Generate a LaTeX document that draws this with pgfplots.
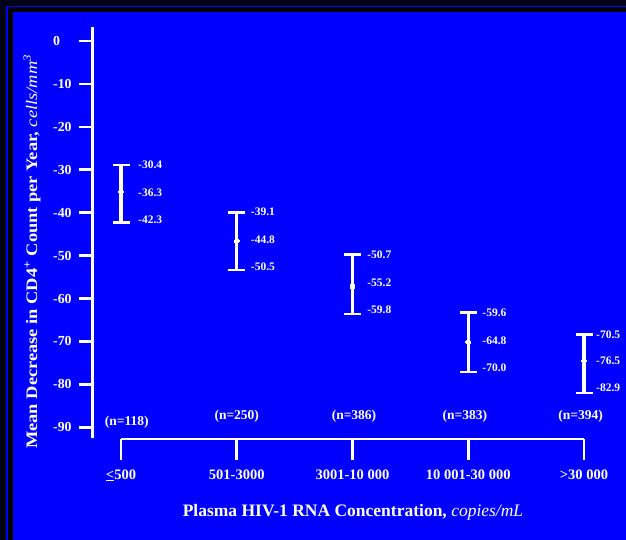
\documentclass[border=0pt]{standalone}
\usepackage{pgfplots}
\pgfplotsset{compat=1.18}
\usepackage{fontspec}
\setmainfont{Liberation Serif}
\definecolor{slideblue}{RGB}{0,0,255}
\definecolor{navyblack}{RGB}{3,3,24}
\begin{document}
\begin{tikzpicture}[x=1pt,y=1pt]
\fill[navyblack] (-10,10) rectangle (640,-560);
\draw[slideblue, line width=1.3pt] (7,-560) -- (7,-6.5) -- (640,-6.5);
\fill[black] (8,-7.5) rectangle (640,-560);
\fill[slideblue] (13,-12) rectangle (640,-560);

\begin{axis}[
  at={(92.7pt,-438.3pt)}, anchor=south west,
  x=115.75pt, y=4.292pt,
  xmin=-0.2445, xmax=4.3,
  ymin=-92.57, ymax=3.26,
  axis y line=left, axis x line=none,
  y axis line style={white, line width=2.6pt, -},
  ytick={-90,-80,...,0},
  yticklabels={-90,-80,-70,-60,-50,-40,-30,-20,-10,0},
  tick align=outside, major tick length=14pt,
  ytick style={white, line width=2.6pt},
  yticklabel style={white, font=\fontsize{13.8}{14}\selectfont\bfseries, anchor=west, inner sep=0pt, xshift=-25.7pt},
  clip=false,
]
\addplot[only marks, mark=*, mark size=2.4pt, white,
  mark options={fill=white, draw=white, line width=0pt},
  error bars/.cd, y dir=both, y explicit,
  error bar style={line width=3.2pt, white},
  error mark options={white, line width=2.8pt, mark size=8.5pt, rotate=90}]
coordinates {
(0,-35.02) += (0,6.13) -= (0,7.22)
(1,-46.60) += (0,6.59) -= (0,6.76)
(2,-57.15) += (0,7.36) -= (0,6.46)
(3,-70.13) += (0,6.83) -= (0,6.99)
(4,-74.40) += (0,6.06) -= (0,7.61)
};
\tikzset{vl/.style={anchor=west, inner sep=0pt, white, font=\fontsize{11.5}{12}\selectfont\bfseries}}
\node[vl] at (axis cs:0.147,-28.89) {-30.4};
\node[vl] at (axis cs:0.147,-35.25) {-36.3};
\node[vl] at (axis cs:0.147,-41.54) {-42.3};
\node[vl] at (axis cs:1.121,-39.77) {-39.1};
\node[vl] at (axis cs:1.121,-46.37) {-44.8};
\node[vl] at (axis cs:1.121,-52.60) {-50.5};
\node[vl] at (axis cs:2.127,-49.86) {-50.7};
\node[vl] at (axis cs:2.127,-56.22) {-55.2};
\node[vl] at (axis cs:2.127,-62.51) {-59.8};
\node[vl] at (axis cs:3.121,-63.37) {-59.6};
\node[vl] at (axis cs:3.121,-69.74) {-64.8};
\node[vl] at (axis cs:3.121,-76.12) {-70.0};
\node[vl] at (axis cs:4.104,-68.34) {-70.5};
\node[vl] at (axis cs:4.104,-74.49) {-76.5};
\node[vl] at (axis cs:4.104,-80.78) {-82.9};
\tikzset{nl/.style={white, font=\fontsize{13.5}{14}\selectfont\bfseries}}
\node[nl] at (axis cs:0.049,-88.80) {(n=118)};
\node[nl] at (axis cs:1.000,-87.40) {(n=250)};
\node[nl] at (axis cs:2.013,-87.40) {(n=386)};
\node[nl] at (axis cs:2.970,-87.40) {(n=383)};
\node[nl] at (axis cs:3.970,-87.40) {(n=394)};
\end{axis}

\begin{axis}[
  at={(121pt,-439pt)}, anchor=south west,
  x=115.75pt, y=4.292pt,
  xmin=0, xmax=4, ymin=0, ymax=1,
  axis x line=bottom, axis y line=none,
  x axis line style={white, line width=2.6pt, -},
  xtick={0,1,2,3,4},
  xticklabels={\underline{<}500, 501-3000, 3001-10 000, 10 001-30 000, >30 000},
  tick align=outside, major tick length=21pt,
  xtick style={white, line width=2.6pt},
  xticklabel style={white, font=\fontsize{14.5}{15}\selectfont\bfseries, yshift=-6pt},
  clip=false,
]
\addplot[draw=none] coordinates {(0,0.5)};
\end{axis}

\node[white, font=\fontsize{17.5}{20}\selectfont\bfseries] at (353,-512) {Plasma HIV-1 RNA Concentration, {\mdseries\itshape copies/mL}};
\node[white, rotate=90, font=\fontsize{16}{18}\selectfont\bfseries] at (32,-251.7) {\scalebox{1.15}[1]{Mean Decrease in CD4\textsuperscript{+} Count per Year, {\mdseries\itshape cells/mm\textsuperscript{3}}}};

\pgfresetboundingbox
\useasboundingbox (0,0) rectangle (626,-540);
\end{tikzpicture}
\end{document}
